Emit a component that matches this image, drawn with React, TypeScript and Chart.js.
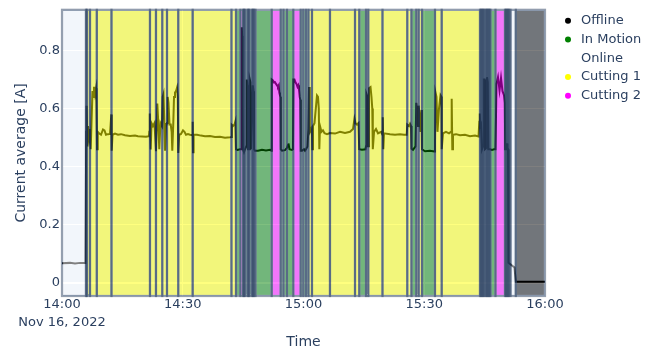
import { useEffect, useRef } from "react";
import { Chart, registerables } from "chart.js";

Chart.register(...registerables);

// Machine states and their colours
const stateNames = ["Offline", "In Motion", "Online", "Cutting 1", "Cutting 2"];
const stateColors = ["#000000", "#008000", "#ffffff", "#ffff00", "#ff00ff"];

// State periods: start time (minutes after 14:00) and state name; each period ends where the next starts
const periodStart = [
  0, 5.96, 6.21, 6.96, 8.65, 12.3, 21.86, 23.35, 24.92, 26.09, 28.89, 32.47,
  42.11, 43.23, 44.32, 44.97, 45.22, 45.47, 46.09, 46.34, 46.58, 47.2, 47.45, 47.7,
  48.07, 52.1, 54.34, 55.03, 55.9, 57.47, 59.3, 59.95, 60.62, 61.24, 62.11, 66.58,
  72.8, 73.86, 75.53, 76.1, 79.63, 85.79, 86.83, 88.02, 88.62, 89.44, 92.67, 94.34,
  103.85, 104.1, 104.35, 104.6, 104.84, 105.22, 105.47, 105.71, 105.96, 106.21, 106.46,
  107.7, 110.06, 110.31, 110.56, 110.81, 111.06, 111.43, 112.75,
];
const periodState = [
  "Online", "Cutting 1", "Cutting 1", "Cutting 1", "Cutting 1", "Cutting 1", "Cutting 1", "Cutting 1",
  "Cutting 1", "Cutting 1", "Cutting 1", "Cutting 1",
  "Cutting 1", "In Motion", "Cutting 2", "In Motion", "In Motion", "In Motion", "In Motion", "In Motion",
  "In Motion", "In Motion", "In Motion", "In Motion",
  "In Motion", "Cutting 2", "In Motion", "In Motion", "In Motion", "Cutting 2", "In Motion", "In Motion",
  "In Motion", "Cutting 1", "Cutting 1", "Cutting 1",
  "Cutting 1", "In Motion", "Cutting 1", "Cutting 1", "Cutting 1", "Cutting 1", "In Motion", "Cutting 1",
  "Cutting 1", "In Motion", "Cutting 1", "Cutting 1",
  "In Motion", "In Motion", "In Motion", "In Motion", "In Motion", "In Motion", "In Motion", "In Motion",
  "In Motion", "In Motion", "In Motion",
  "Cutting 2", "In Motion", "In Motion", "In Motion", "In Motion", "In Motion", "Online", "Offline",
];
const periodLastEnd = 120;

// Current average readings: time (minutes after 14:00) and value in A
const traceMinutes = [
  0, 1.99, 3.23, 4.47, 5.84,
  6.01, 6.11, 6.26, 6.46, 6.71, 6.96, 7.13, 7.33, 7.58, 7.78, 7.95, 8.2, 8.45, 8.57, 8.7, 8.89,
  9.19, 9.69, 10.19, 10.56, 10.93, 11.43, 11.93, 12.25, 12.35, 12.55, 13.17, 13.91, 14.66, 15.65,
  16.89, 18.14, 18.88, 19.88, 20.87, 21.61,
  21.69, 21.81, 22.04, 22.24, 22.61, 22.98, 23.35, 23.68, 23.93, 24.17, 24.47, 24.84, 25.02, 25.22,
  25.42, 25.59, 25.84, 26.09, 26.26, 26.46, 26.71, 27.01, 27.25, 27.4, 27.65, 27.83, 28.07, 28.32,
  28.57, 28.77, 28.89, 29.12, 29.57, 30.06, 30.43, 30.81, 31.3, 31.8, 32.42, 32.47, 32.55, 32.7,
  33.54, 34.53, 35.53, 36.77, 38.01, 39.25, 40.5, 41.74,
  42.11, 42.2, 42.48, 42.86, 43.06, 43.23, 43.6, 44.22, 44.6, 44.67, 44.77, 44.87, 44.97, 45.22,
  45.47, 45.79, 45.91, 46.09, 46.21, 46.46, 46.66, 46.83, 46.96, 47.2, 47.4, 47.58, 47.7, 47.95,
  48.7, 49.69, 50.68, 51.68, 52.05,
  52.12, 52.42, 52.67, 52.92, 53.17, 53.42, 53.66, 53.84, 53.99, 54.16, 54.26, 54.36, 54.66, 55.4,
  55.9, 56.15, 56.27, 56.52, 57.14, 57.39, 57.49, 57.76, 58.01, 58.26, 58.51, 58.71, 58.88, 59.06,
  59.2, 59.33, 59.63, 60.12, 60.37, 60.62, 60.99, 61.24, 61.37, 61.49, 61.61, 61.86, 62.11, 62.19,
  62.36, 62.73, 63.35, 63.6, 63.8, 63.93, 64.1, 64.47, 64.84, 65.22, 65.84, 66.58, 67.83, 69.07,
  70.31, 71.55, 72.3, 72.67, 72.92, 73.29, 73.66, 73.84, 74.53, 75.4, 75.53, 75.65, 75.9, 76.07,
  76.27, 76.65, 76.89, 77.09, 77.22, 77.52, 78.01, 78.51, 79.25, 79.63, 79.7, 79.83, 80.0, 81.49,
  82.73, 83.98, 84.97, 85.64, 85.79, 86.21, 86.46, 86.71, 86.83, 87.2, 87.83, 88.02, 88.2, 88.45,
  88.62, 88.82, 89.07, 89.32, 89.44, 90.19, 91.43, 92.55, 92.67, 92.8, 93.04, 93.29, 93.66, 94.04,
  94.29, 94.34, 94.66, 95.4, 96.15, 96.65, 96.82, 96.97, 97.14, 97.89, 98.88, 100.12, 101.37, 102.61,
  103.48, 103.68, 103.8, 103.93, 104.1, 104.35, 104.6, 104.8, 104.97, 105.09, 105.47, 105.59, 105.79,
  105.91, 106.34, 106.83, 107.33, 107.7, 107.95, 108.32, 108.7, 109.07, 109.44, 109.81, 110.01,
  110.11, 110.43, 110.56, 110.68, 110.81, 110.93, 112.42, 112.75, 113.5, 120,
];
const traceCurrent = [
  0.068, 0.069, 0.067, 0.069, 0.069,
  0.52, 0.61, 0.47, 0.54, 0.5, 0.53, 0.46, 0.55, 0.66, 0.64, 0.675, 0.65, 0.67, 0.62, 0.46, 0.52,
  0.515, 0.51, 0.528, 0.525, 0.51, 0.512, 0.513, 0.58, 0.455, 0.51, 0.514, 0.51, 0.512, 0.508,
  0.506, 0.507, 0.505, 0.504, 0.503, 0.505,
  0.52, 0.583, 0.459, 0.55, 0.54, 0.55, 0.453, 0.617, 0.55, 0.46, 0.55, 0.54, 0.64, 0.65,
  0.55, 0.455, 0.54, 0.55, 0.64, 0.62, 0.545, 0.545, 0.52, 0.455, 0.55, 0.64, 0.655, 0.66,
  0.672, 0.64, 0.447, 0.51, 0.513, 0.525, 0.52, 0.51, 0.512, 0.51, 0.508, 0.555, 0.45, 0.51,
  0.51, 0.507, 0.505, 0.506, 0.502, 0.503, 0.5, 0.501,
  0.502, 0.544, 0.54, 0.545, 0.555, 0.46, 0.458, 0.46, 0.46, 0.88, 0.85, 0.62, 0.46, 0.45,
  0.46, 0.47, 0.7, 0.68, 0.46, 0.46, 0.7, 0.69, 0.46, 0.46, 0.68, 0.66, 0.46, 0.455,
  0.455, 0.458, 0.456, 0.458, 0.455,
  0.7, 0.697, 0.69, 0.691, 0.685, 0.68, 0.675, 0.68, 0.655, 0.645, 0.64, 0.46, 0.455, 0.457,
  0.465, 0.475, 0.48, 0.46, 0.458, 0.46, 0.7, 0.7, 0.69, 0.685, 0.675, 0.68, 0.665, 0.64,
  0.63, 0.455, 0.455, 0.46, 0.455, 0.46, 0.47, 0.53, 0.674, 0.55, 0.52, 0.53, 0.51, 0.46,
  0.54, 0.55, 0.645, 0.64, 0.6, 0.46, 0.54, 0.52, 0.525, 0.515, 0.512, 0.516, 0.514, 0.52,
  0.516, 0.52, 0.53, 0.565, 0.55, 0.545, 0.55, 0.46, 0.458, 0.46, 0.47, 0.65, 0.64, 0.47,
  0.67, 0.674, 0.64, 0.6, 0.46, 0.52, 0.53, 0.515, 0.52, 0.51, 0.57, 0.46, 0.515, 0.512,
  0.51, 0.512, 0.51, 0.51, 0.545, 0.54, 0.548, 0.54, 0.462, 0.458, 0.47, 0.62, 0.6, 0.54,
  0.61, 0.58, 0.52, 0.595, 0.46, 0.453, 0.455, 0.452, 0.48, 0.655, 0.64, 0.52, 0.6, 0.646,
  0.64, 0.46, 0.515, 0.52, 0.515, 0.52, 0.634, 0.46, 0.51, 0.512, 0.508, 0.51, 0.505, 0.507,
  0.504, 0.555, 0.583, 0.54, 0.545, 0.46, 0.47, 0.7, 0.7, 0.46, 0.465, 0.708, 0.69,
  0.46, 0.46, 0.458, 0.46, 0.46, 0.685, 0.708, 0.663, 0.705, 0.66, 0.646, 0.62,
  0.46, 0.46, 0.48, 0.46, 0.46, 0.069, 0.053, 0.004, 0.004, 0.004,
];

// Axis ticks
const xTickMinutes = [0, 30, 60, 90, 120];
const xTickLabels = ["14:00", "14:30", "15:00", "15:30", "16:00"];
const dateLabel = "Nov 16, 2022";
const yTickValues = [0, 0.2, 0.4, 0.6, 0.8];
const yTickLabels = ["0", "0.2", "0.4", "0.6", "0.8"];

const FONT_FAMILY = "'DejaVu Sans', Verdana, sans-serif";
const TEXT_COLOR = "#2a3f5f";
const PLOT_BG = "#E5ECF6";
const SHAPE_LINE = "#2a3f5f";

const plotBackground = {
  id: "plotBackground",
  beforeDraw(chart: any) {
    const { ctx, chartArea: a } = chart;
    ctx.save();
    ctx.fillStyle = PLOT_BG;
    ctx.fillRect(a.left, a.top, a.right - a.left, a.bottom - a.top);
    ctx.restore();
  },
};

// Translucent state bands laid over the trace, each outlined
const stateBands = {
  id: "stateBands",
  afterDatasetsDraw(chart: any) {
    const { ctx, chartArea: a, scales } = chart;
    const x = scales.x;
    const lw = 2.2;
    ctx.save();
    ctx.globalAlpha = 0.5;
    for (let i = 0; i < periodStart.length; i++) {
      const end = i + 1 < periodStart.length ? periodStart[i + 1] : periodLastEnd;
      const x0 = x.getPixelForValue(periodStart[i]);
      const x1 = x.getPixelForValue(end);
      const color = stateColors[stateNames.indexOf(periodState[i])];
      const inner = x1 - x0 - lw;
      if (inner > 0) {
        ctx.fillStyle = color;
        ctx.fillRect(x0 + lw / 2, a.top + lw / 2, inner, a.bottom - a.top - lw);
      }
      ctx.strokeStyle = SHAPE_LINE;
      ctx.lineWidth = lw;
      ctx.strokeRect(x0, a.top, x1 - x0, a.bottom - a.top);
    }
    ctx.restore();
  },
};

const stateLegend = {
  id: "stateLegend",
  afterDraw(chart: any) {
    const ctx = chart.ctx;
    ctx.save();
    ctx.font = `13px ${FONT_FAMILY}`;
    ctx.textBaseline = "middle";
    ctx.textAlign = "left";
    stateNames.forEach((name, i) => {
      const y = 20.7 + i * 18.75;
      ctx.fillStyle = stateColors[i];
      ctx.beginPath();
      ctx.arc(568, y, 3, 0, Math.PI * 2);
      ctx.fill();
      ctx.fillStyle = TEXT_COLOR;
      ctx.fillText(name, 581, y);
    });
    ctx.restore();
  },
};

export default function App() {
  const canvasRef = useRef<HTMLCanvasElement | null>(null);

  useEffect(() => {
    const canvas = canvasRef.current;
    if (!canvas) return;
    const tickFont = { family: FONT_FAMILY, size: 13, lineHeight: 1.36 };
    const titleFont = { family: FONT_FAMILY, size: 14, lineHeight: 1.2 };
    const chart = new Chart(canvas, {
      type: "line",
      data: {
        datasets: [
          {
            label: "Current average",
            data: traceMinutes.map((m, i) => ({ x: m, y: traceCurrent[i] })),
            borderColor: "#000000",
            borderWidth: 2,
            pointRadius: 0,
            tension: 0,
            fill: false,
          },
        ],
      },
      options: {
        responsive: false,
        animation: false,
        devicePixelRatio: 1,
        layout: { padding: { top: 7, right: 112, left: 0, bottom: 0 } },
        plugins: { legend: { display: false }, tooltip: { enabled: false } },
        scales: {
          x: {
            type: "linear",
            min: 0,
            max: 120,
            afterFit(s: any) {
              s.height = 58;
            },
            afterBuildTicks(s: any) {
              s.ticks = xTickMinutes.map((v) => ({ value: v }));
            },
            ticks: {
              autoSkip: false,
              maxRotation: 0,
              padding: 0,
              color: TEXT_COLOR,
              font: tickFont,
              callback: (_v: any, i: number) => (i === 0 ? [xTickLabels[0], dateLabel] : xTickLabels[i]),
            },
            grid: { color: "#ffffff", drawTicks: false },
            border: { display: false },
            title: {
              display: true,
              text: "Time",
              color: TEXT_COLOR,
              font: titleFont,
              padding: { top: 0, bottom: 3.6 },
            },
          },
          y: {
            type: "linear",
            min: -0.045,
            max: 0.94,
            afterFit(s: any) {
              s.width = 62;
            },
            afterBuildTicks(s: any) {
              s.ticks = yTickValues.map((v) => ({ value: v }));
            },
            ticks: {
              padding: 2,
              color: TEXT_COLOR,
              font: { family: FONT_FAMILY, size: 13 },
              callback: (_v: any, i: number) => yTickLabels[i],
            },
            grid: {
              color: "#ffffff",
              drawTicks: false,
              lineWidth: (c: any) => (c.tick && c.tick.value === 0 ? 2 : 1),
            },
            border: { display: false },
            title: {
              display: true,
              text: "Current average [A]",
              color: TEXT_COLOR,
              font: titleFont,
              padding: { top: 12.6, bottom: 0 },
            },
          },
        },
      },
      plugins: [plotBackground, stateBands, stateLegend],
    } as any);
    return () => chart.destroy();
  }, []);

  return (
    <div style={{ position: "fixed", left: 0, top: 0, width: 657, height: 354, background: "#ffffff" }}>
      <canvas ref={canvasRef} width={657} height={354} style={{ display: "block" }} />
    </div>
  );
}
